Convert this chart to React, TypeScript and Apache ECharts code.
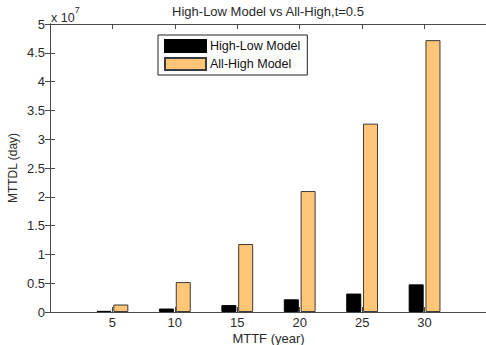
import React, { useEffect, useRef } from "react";
import * as echarts from "echarts";

const mttfYears = [5, 10, 15, 20, 25, 30];
// MTTDL values in units of 10^7 days
const highLowModel = [0.02, 0.06, 0.12, 0.22, 0.32, 0.48];
const allHighModel = [0.13, 0.52, 1.18, 2.1, 3.27, 4.72];
const xTickLabels = ["5", "10", "15", "20", "25", "30"];

const FONT = "Liberation Sans, Arial, sans-serif";
const AXIS_COLOR = "#4a4a4a";
const TEXT_COLOR = "#2a2a2a";

export default function App() {
  const ref = useRef<HTMLDivElement>(null);
  useEffect(() => {
    document.body.style.margin = "0";
    if (!ref.current) return;
    const chart = echarts.init(ref.current, null, { renderer: "svg" });
    const xLabel = (v: number) => {
      const i = mttfYears.indexOf(v);
      return i >= 0 ? xTickLabels[i] : "";
    };
    const commonX = {
      type: "value" as const,
      min: 0,
      max: 35,
      interval: 5,
      splitLine: { show: false },
      axisLine: { show: true, onZero: false, lineStyle: { color: AXIS_COLOR, width: 1 } },
      axisTick: { show: true, inside: true, length: 5, lineStyle: { color: AXIS_COLOR } },
    };
    const commonY = {
      type: "value" as const,
      min: 0,
      max: 5,
      interval: 0.5,
      splitLine: { show: false },
      axisLine: { show: true, lineStyle: { color: AXIS_COLOR, width: 1 } },
      axisTick: { show: true, inside: true, length: 5, lineStyle: { color: AXIS_COLOR } },
    };
    chart.setOption({
      animation: false,
      backgroundColor: "#ffffff",
      textStyle: { fontFamily: FONT },
      grid: {
        left: 50,
        top: 24,
        bottom: 33,
        width: 437,
        containLabel: false,
        outerBoundsMode: "none",
      },
      xAxis: [
        {
          ...commonX,
          position: "bottom",
          axisLabel: {
            show: true,
            formatter: xLabel,
            color: TEXT_COLOR,
            fontSize: 13,
            fontFamily: FONT,
            margin: 4,
          },
          name: "MTTF (year)",
          nameLocation: "middle",
          nameGap: 20,
          nameMoveOverlap: false,
          nameTextStyle: { color: TEXT_COLOR, fontSize: 13, fontFamily: FONT },
        },
        {
          ...commonX,
          position: "top",
          axisLabel: { show: false },
        },
      ],
      yAxis: [
        {
          ...commonY,
          position: "left",
          axisLabel: {
            show: true,
            color: TEXT_COLOR,
            fontSize: 13,
            fontFamily: FONT,
            margin: 5,
          },
          name: "MTTDL (day)",
          nameLocation: "middle",
          nameGap: 31,
          nameMoveOverlap: false,
          nameTextStyle: { color: TEXT_COLOR, fontSize: 12, fontFamily: FONT },
        },
        {
          ...commonY,
          position: "right",
          axisLabel: { show: false },
        },
      ],
      legend: {
        orient: "vertical",
        left: 158,
        top: 35,
        padding: [4, 7, 4, 6],
        itemGap: 4,
        itemWidth: 41,
        itemHeight: 12,
        borderColor: "#222",
        borderWidth: 1,
        backgroundColor: "#fff",
        icon: "rect",
        textStyle: { color: "#111", fontSize: 12.5, fontFamily: FONT, padding: [0, 0, 0, -1] },
        data: ["High-Low Model", "All-High Model"],
      },
      series: [
        {
          name: "High-Low Model",
          type: "bar",
          barWidth: 15,
          barGap: "12%",
          data: mttfYears.map((x, i) => [x, highLowModel[i]]),
          itemStyle: { color: "#000000", borderColor: "#000000", borderWidth: 1 },
        },
        {
          name: "All-High Model",
          type: "bar",
          barWidth: 15,
          barGap: "12%",
          data: mttfYears.map((x, i) => [x, allHighModel[i]]),
          itemStyle: { color: "#FFC677", borderColor: "#3a3a3a", borderWidth: 1 },
        },
      ],
      graphic: [
        {
          type: "text",
          x: 268,
          y: 5,
          style: {
            text: "High-Low Model vs All-High,t=0.5",
            fill: TEXT_COLOR,
            font: `13px ${FONT}`,
            textAlign: "center",
          },
        },
        {
          type: "text",
          x: 51,
          y: 5,
          style: {
            text: "{a|x 10}{b|7}",
            rich: {
              a: { fill: TEXT_COLOR, fontSize: 12.5, fontFamily: FONT, padding: [6, 0, 0, 0] },
              b: { fill: TEXT_COLOR, fontSize: 9, fontFamily: FONT, verticalAlign: "top" },
            },
          },
        },
      ],
    });
    return () => chart.dispose();
  }, []);
  return <div ref={ref} style={{ width: 486, height: 345 }} />;
}
